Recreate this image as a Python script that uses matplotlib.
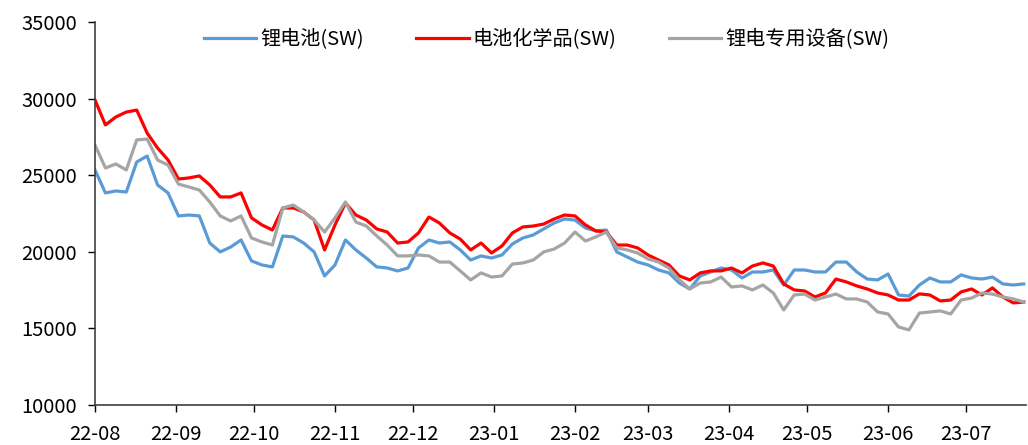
import matplotlib
matplotlib.use("Agg")
import matplotlib.pyplot as plt
import matplotlib.dates as mdates
import pandas as pd

plt.rcParams['font.family'] = ['Noto Sans CJK SC', 'DejaVu Sans']

# sampled every 4 days from 2022-08-01
dates = pd.date_range('2022-08-01', periods=90, freq='4D')

li_battery = [
    25340, 23840, 23970, 23900, 25860, 26250, 24360, 23840, 22340, 22400,
    22340, 20570, 19990, 20310, 20770, 19400, 19140, 19010, 21030, 20970,
    20570, 19990, 18420, 19140, 20770, 20120, 19590, 19010, 18940, 18750,
    18940, 20250, 20770, 20570, 20640, 20120, 19460, 19730, 19590, 19790,
    20510, 20900, 21100, 21490, 21880, 22140, 22070, 21550, 21360, 21420,
    19990, 19660, 19330, 19140, 18810, 18620, 17960, 17570, 18420, 18680,
    18940, 18810, 18290, 18680, 18680, 18810, 17830, 18810, 18810, 18680,
    18680, 19330, 19330, 18680, 18220, 18160, 18550, 17180, 17110, 17830,
    18290, 18030, 18030, 18490, 18290, 18220, 18350, 17900, 17830, 17900,
]

battery_chem = [
    29910, 28280, 28800, 29120, 29250, 27750, 26770, 25990, 24750, 24820,
    24950, 24360, 23580, 23580, 23840, 22210, 21750, 21420, 22860, 22860,
    22600, 22070, 20120, 21750, 23180, 22400, 22070, 21490, 21290, 20570,
    20640, 21230, 22270, 21880, 21230, 20830, 20120, 20570, 19920, 20380,
    21230, 21620, 21680, 21810, 22140, 22400, 22340, 21750, 21360, 21290,
    20440, 20440, 20250, 19790, 19460, 19140, 18420, 18160, 18620, 18750,
    18750, 18940, 18620, 19070, 19270, 19070, 17900, 17510, 17440, 17050,
    17310, 18220, 18030, 17770, 17570, 17310, 17180, 16850, 16850, 17250,
    17180, 16790, 16850, 17380, 17570, 17180, 17640, 17050, 16660, 16720,
]

li_equipment = [
    26970, 25470, 25730, 25340, 27300, 27360, 25990, 25660, 24420, 24230,
    24030, 23250, 22340, 22010, 22340, 20900, 20640, 20440, 22860, 23050,
    22600, 22070, 21290, 22210, 23250, 21940, 21680, 21030, 20440, 19730,
    19730, 19790, 19730, 19330, 19330, 18750, 18160, 18620, 18350, 18420,
    19200, 19270, 19460, 19990, 20180, 20570, 21290, 20700, 20970, 21290,
    20250, 20120, 19920, 19530, 19330, 18940, 18160, 17570, 17960, 18030,
    18350, 17700, 17770, 17510, 17830, 17310, 16200, 17180, 17240, 16850,
    17050, 17240, 16920, 16920, 16720, 16070, 15940, 15090, 14900, 16000,
    16070, 16140, 15940, 16850, 16980, 17310, 17240, 17050, 16920, 16720,
]

series_names = ['锂电池(SW)', '电池化学品(SW)', '锂电专用设备(SW)']
series_colors = ['#5B9BD5', '#FF0000', '#A5A5A5']
y_ticks = [10000, 15000, 20000, 25000, 30000, 35000]


def main():
    fig = plt.figure(figsize=(10.28, 4.45), dpi=100)
    ax = fig.add_axes([0.0924, 0.09, 0.906, 0.8606])

    for vals, name, col in zip([li_battery, battery_chem, li_equipment],
                               series_names, series_colors):
        ax.plot(dates, vals, color=col, lw=2.3, label=name)

    ax.set_ylim(10000, 35000)
    ax.set_yticks(y_ticks)
    ax.set_xlim(pd.Timestamp('2022-08-01'), pd.Timestamp('2023-07-24'))
    ax.xaxis.set_major_locator(mdates.MonthLocator())
    ax.xaxis.set_major_formatter(mdates.DateFormatter('%y-%m'))

    for s in ['top', 'right']:
        ax.spines[s].set_visible(False)
    for s in ['left', 'bottom']:
        ax.spines[s].set_color('#404040')
        ax.spines[s].set_linewidth(1.2)
    ax.tick_params(axis='both', labelsize=14.5, colors='#000000',
                   length=5, width=1, direction='out')
    ax.tick_params(axis='x', pad=9)
    ax.tick_params(axis='y', pad=8)

    ax.legend(loc='upper center', bbox_to_anchor=(0.485, 1.03), ncol=3,
              frameon=False, fontsize=14.5, handlelength=2.6,
              columnspacing=2.6, handletextpad=0.2)

    fig.savefig('out.png', dpi=100)


if __name__ == "__main__":
    main()
